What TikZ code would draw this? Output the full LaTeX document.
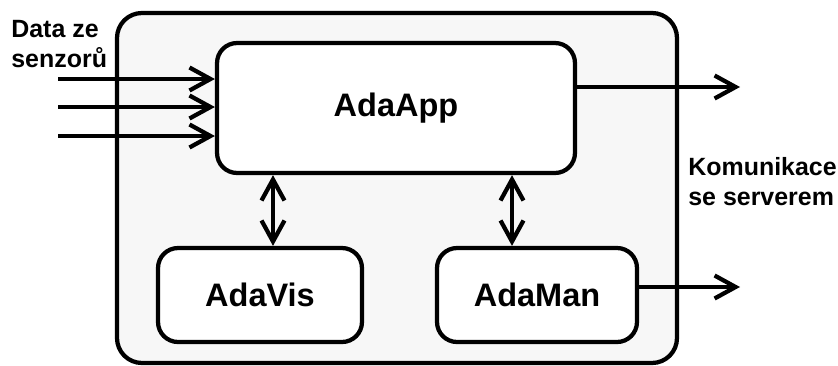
\documentclass[tikz,border=0pt]{standalone}
\usepackage{fontspec}
\setmainfont{Liberation Sans}
\usetikzlibrary{arrows.meta}

\tikzset{
  box/.style={draw, line width=0.085cm, rounded corners=0.4cm, fill=white, inner sep=0pt},
  flow/.style={line width=0.085cm, -{Straight Barb[length=0.42cm,width=0.46cm]}},
  twoway/.style={line width=0.085cm, {Straight Barb[length=0.42cm,width=0.46cm]}-{Straight Barb[length=0.42cm,width=0.46cm]}},
  note/.style={align=left, inner sep=0pt, font=\fontsize{14.2}{17}\selectfont\bfseries},
  big/.style={font=\fontsize{18.5}{22}\selectfont\bfseries}
}

\begin{document}
\begin{tikzpicture}[x=0.02cm,y=-0.02cm]
        \useasboundingbox (0,0) rectangle (838,365);

        % 外框
        \draw[line width=0.085cm, rounded corners=0.5cm, fill=black!3] (117,13) rectangle (677,363);

        % 三个模块
        \node[box, big, minimum width=7.16cm, minimum height=2.6cm] (AdaApp) at (396,108) {AdaApp};
        \node[box, big, minimum width=4.08cm, minimum height=1.88cm] (AdaVis) at (260,295) {AdaVis};
        \node[box, big, minimum width=4.0cm, minimum height=1.88cm] (AdaMan) at (537,295) {AdaMan};

        % 输入与输出
        \coordinate (in1) at (58,79);
        \coordinate (in2) at (58,107);
        \coordinate (in3) at (58,136);
        \foreach \i in {1,2,3}
            \draw[flow] (in\i) -- (in\i -| AdaApp.west);
        \coordinate (out1) at (740,87);
        \coordinate (out2) at (740,287);
        \draw[flow] (out1 -| AdaApp.east) -- (out1);
        \draw[flow] (out2 -| AdaMan.east) -- (out2);

        % 双向箭头
        \draw[twoway] ([xshift=0.26cm]AdaVis.north |- AdaApp.south) -- ([xshift=0.26cm]AdaVis.north);
        \draw[twoway] ([xshift=-0.5cm]AdaMan.north |- AdaApp.south) -- ([xshift=-0.5cm]AdaMan.north);

        % 添加标签
        \node[note, anchor=north west] (sensors) at (11,20) {Data ze\\senzorů};
        \node[note, anchor=north west] (server) at (688,157) {Komunikace\\se serverem};
    \end{tikzpicture}
\end{document}
